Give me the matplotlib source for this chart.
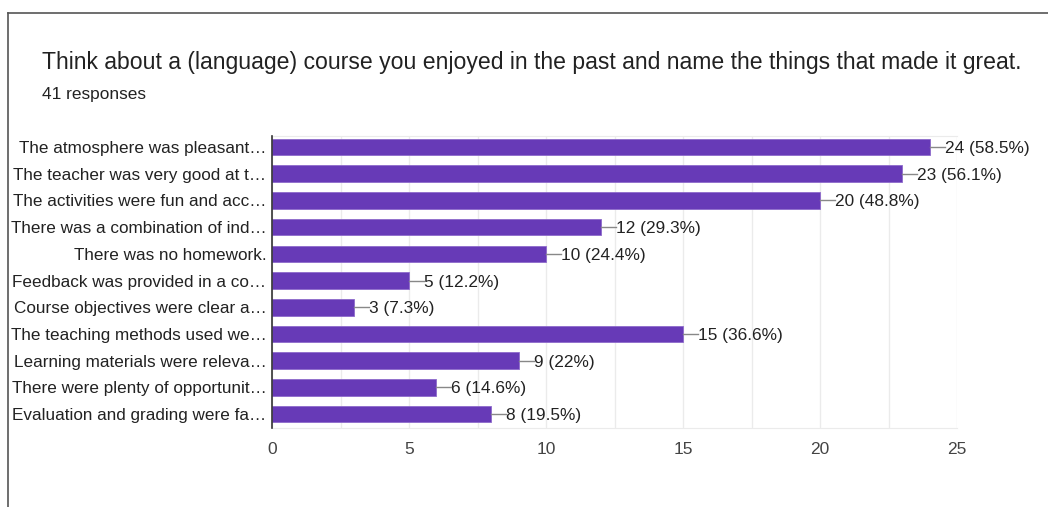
import matplotlib.pyplot as plt
from matplotlib.ticker import MultipleLocator

plt.rcParams['font.family'] = ['Liberation Sans', 'DejaVu Sans']

# survey answers, top to bottom
labels = [
    "The atmosphere was pleasant…",
    "The teacher was very good at t…",
    "The activities were fun and acc…",
    "There was a combination of ind…",
    "There was no homework.",
    "Feedback was provided in a co…",
    "Course objectives were clear a…",
    "The teaching methods used we…",
    "Learning materials were releva…",
    "There were plenty of opportunit…",
    "Evaluation and grading were fa…",
]
counts = [24, 23, 20, 12, 10, 5, 3, 15, 9, 6, 8]
pcts = ["58.5%", "56.1%", "48.8%", "29.3%", "24.4%", "12.2%", "7.3%",
        "36.6%", "22%", "14.6%", "19.5%"]
total = 41

bar_color = '#673ab7'
text_color = '#222222'

fig = plt.figure(figsize=(10.48, 5.07), dpi=100)
fig.patch.set_facecolor('white')

# card frame (top and left edge)
fig.add_artist(plt.Line2D([8/1048, 1], [1 - 13/507, 1 - 13/507], color='#555555', lw=1.2))
fig.add_artist(plt.Line2D([8/1048, 8/1048], [0, 1 - 13/507], color='#555555', lw=1.2))

fig.text(42/1048, 1 - 62/507, "Think about a (language) course you enjoyed in the past and name the things that made it great.",
         fontsize=16.6, color=text_color, va='center', ha='left')
fig.text(42/1048, 1 - 94/507, f"{total} responses", fontsize=12.4, color=text_color, va='center', ha='left')

ax = fig.add_axes([272/1048, 1 - 428/507, (957 - 272)/1048, (428 - 136)/507])
y = list(range(len(labels)))
ax.barh(y, counts, height=0.62, color=bar_color, edgecolor='#8e6acb', linewidth=0.6, zorder=3)

ax.set_xlim(0, 25)
ax.set_ylim(10.52, -0.41)
ax.xaxis.set_major_locator(MultipleLocator(5))
ax.xaxis.set_minor_locator(MultipleLocator(2.5))
ax.grid(axis='x', which='both', color='#ebebeb', lw=1, zorder=0)
ax.set_yticks(y)
ax.set_yticklabels(labels, fontsize=12.3, color=text_color)
ax.tick_params(axis='y', length=0, pad=4)
ax.tick_params(axis='x', which='both', length=0, pad=10, labelsize=12.5, labelcolor='#444444')

ax.spines['right'].set_visible(False)
ax.spines['top'].set_color('#ebebeb')
ax.spines['bottom'].set_color('#ebebeb')
ax.spines['left'].set_color('#333333')
ax.spines['left'].set_linewidth(1.2)
ax.spines['left'].set_zorder(5)

# value labels with a short leader line
for i, (c, p) in enumerate(zip(counts, pcts)):
    ax.plot([c, c + 0.55], [i, i], color='#888888', lw=1, zorder=4)
    ax.text(c + 0.55, i, f"{c} ({p})", va='center_baseline', ha='left', fontsize=12.4, color=text_color)

fig.savefig('out.png', dpi=100)
